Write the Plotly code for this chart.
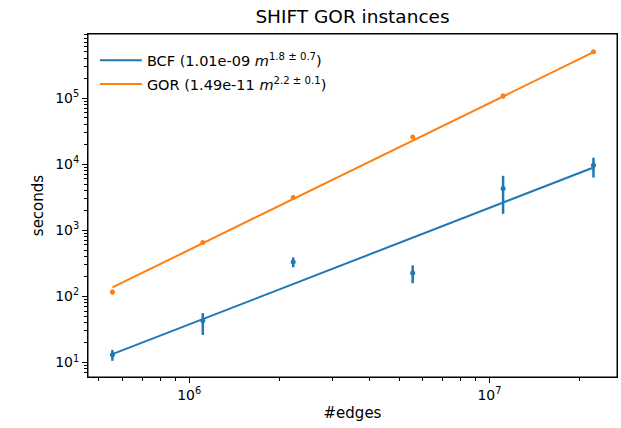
import numpy as np
import plotly.graph_objects as go

# ---- data ----
edges = [5.55e5, 1.11e6, 2.22e6, 5.55e6, 1.11e7, 2.22e7]

bcf_seconds = [13.1, 42.8, 330, 225, 4290, 9620]
bcf_err_plus = [2.4, 13.0, 59, 69, 2360, 2880]
bcf_err_minus = [2.5, 16.7, 55, 67, 2520, 3350]

gor_seconds = [116, 653, 3130, 25700, 107000, 500000]
gor_err_plus = [10, 30, 150, 1500, 9000, 20000]
gor_err_minus = [10, 30, 150, 1500, 9000, 20000]

bcf_coef, bcf_exp = 1.01e-9, 1.762
gor_coef, gor_exp = 2.38e-11, 2.221

bcf_label = "BCF (1.01e-09 <i>m</i><sup>1.8 ± 0.7</sup>)"
gor_label = "GOR (1.49e-11 <i>m</i><sup>2.2 ± 0.1</sup>)"

x_tickvals = [1e6, 1e7]
x_ticktext = ["10<sup>6</sup>", "10<sup>7</sup>"]
y_tickvals = [1e1, 1e2, 1e3, 1e4, 1e5]
y_ticktext = ["10<sup>1</sup>", "10<sup>2</sup>", "10<sup>3</sup>",
              "10<sup>4</sup>", "10<sup>5</sup>"]

title = "SHIFT GOR instances"
x_title = "#edges"
y_title = "seconds"

BLUE = "#1f77b4"
ORANGE = "#ff7f0e"
FONT = "DejaVu Sans"

fit_x = np.array([min(edges), max(edges)])

fig = go.Figure()

# fit lines (legend entries)
fig.add_trace(go.Scatter(x=fit_x, y=bcf_coef * fit_x ** bcf_exp, mode="lines",
                         line=dict(color=BLUE, width=2), name=bcf_label,
                         legendgroup="a"))
fig.add_trace(go.Scatter(x=fit_x, y=gor_coef * fit_x ** gor_exp, mode="lines",
                         line=dict(color=ORANGE, width=2), name=gor_label,
                         legendgroup="b"))

# data with error bars
fig.add_trace(go.Scatter(x=edges, y=bcf_seconds, mode="markers",
                         marker=dict(color=BLUE, size=5),
                         error_y=dict(type="data", symmetric=False, array=bcf_err_plus,
                                      arrayminus=bcf_err_minus, color=BLUE,
                                      thickness=2.5, width=0),
                         showlegend=False))
fig.add_trace(go.Scatter(x=edges, y=gor_seconds, mode="markers",
                         marker=dict(color=ORANGE, size=5),
                         error_y=dict(type="data", symmetric=False, array=gor_err_plus,
                                      arrayminus=gor_err_minus, color=ORANGE,
                                      thickness=2.5, width=0),
                         showlegend=False))

axis_common = dict(
    type="log",
    tickmode="array",
    showgrid=False,
    zeroline=False,
    showline=True,
    linecolor="black",
    linewidth=1,
    mirror=True,
    ticks="outside",
    ticklen=5,
    tickwidth=1,
    tickcolor="black",
    tickfont=dict(family=FONT, size=14, color="black"),
    minor=dict(ticks="outside", ticklen=3, tickwidth=0.8, tickcolor="black",
               dtick="D1", showgrid=False),
)

fig.update_xaxes(**axis_common, range=[5.663, 7.4247],
                 tickvals=x_tickvals, ticktext=x_ticktext,
                 title=dict(text=x_title, font=dict(family=FONT, size=15, color="black"),
                            standoff=5))
fig.update_yaxes(**axis_common, range=[0.7805, 5.968],
                 tickvals=y_tickvals, ticktext=y_ticktext,
                 title=dict(text=y_title, font=dict(family=FONT, size=15, color="black"),
                            standoff=7))

# full axes frame
fig.add_shape(type="rect", xref="paper", yref="paper", x0=0, y0=0, x1=1, y1=1,
              line=dict(color="black", width=1), fillcolor="rgba(0,0,0,0)", layer="above")

fig.update_layout(
    width=621, height=428,
    margin=dict(l=88, r=4, t=34, b=51),
    paper_bgcolor="white",
    plot_bgcolor="white",
    font=dict(family=FONT, size=14, color="black"),
    title=dict(text=title, x=(88.3 + 616.7) / 2 / 621, xanchor="center",
               y=1 - 17 / 428, yanchor="middle",
               font=dict(family=FONT, size=18.5, color="black")),
    legend=dict(x=0.013, y=0.97, xanchor="left", yanchor="top",
                bgcolor="rgba(255,255,255,0)", borderwidth=0,
                itemwidth=42,
                font=dict(family=FONT, size=14.5, color="black"),
                tracegroupgap=2),
    showlegend=True,
)

fig.write_html("out.html", config={"displayModeBar": False},
               post_script="document.body.style.margin='0';")
